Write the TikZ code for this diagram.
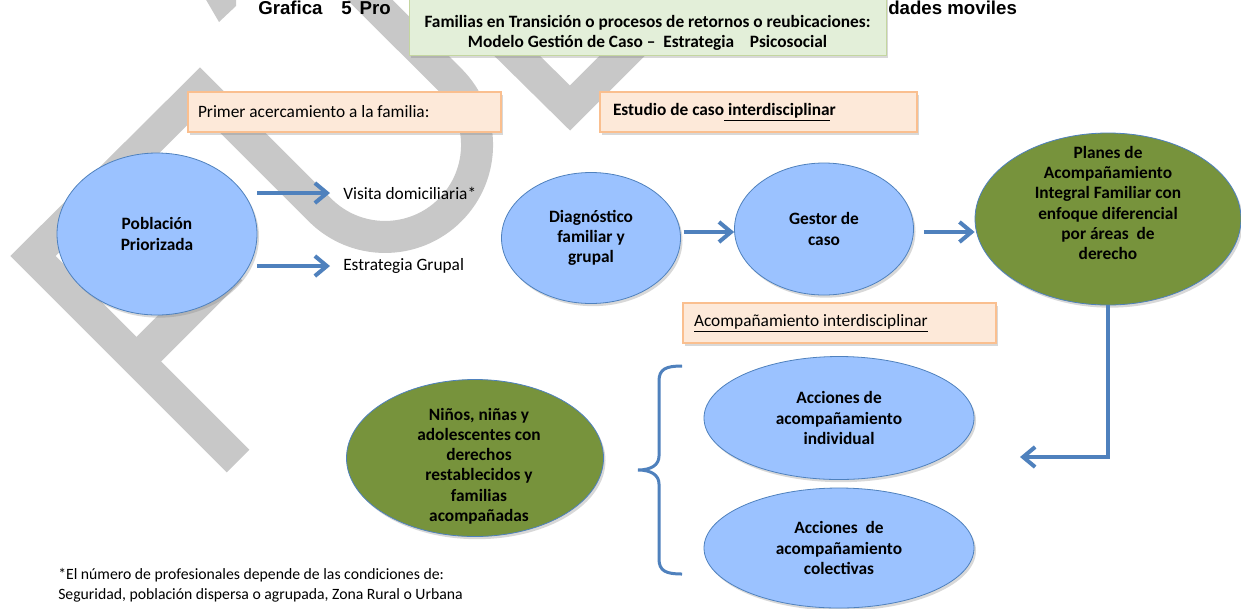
\documentclass[tikz,border=0pt]{standalone}
\usepackage{fontspec}
\setmainfont{Carlito}
\newfontfamily\titlefont{Liberation Sans}
\usetikzlibrary{shapes.geometric,arrows.meta,shadows}

\definecolor{accblue}{RGB}{79,129,189}
\definecolor{lightblue}{RGB}{155,194,255}
\definecolor{olivefill}{RGB}{119,147,60}
\definecolor{peach}{RGB}{253,233,217}
\definecolor{peachline}{RGB}{250,191,143}
\definecolor{palegreen}{RGB}{227,239,217}
\definecolor{palegreenline}{RGB}{196,214,160}
\definecolor{wmgray}{RGB}{200,200,200}

\newlength{\pxu}
\setlength{\pxu}{0.75pt}

\tikzset{
  txt/.style={font=\fontsize{13}{15.2}\selectfont, inner sep=0pt},
  btxt/.style={txt, font=\fontsize{13}{15.2}\selectfont\bfseries, align=center},
  titletxt/.style={txt, font=\titlefont\bfseries\fontsize{14}{16}\selectfont, anchor=base west},
  softshadow/.style={drop shadow={shadow xshift=1.5pt, shadow yshift=-2pt, opacity=.3}},
  notebox/.style={rectangle, draw=peachline, line width=1pt, fill=peach, softshadow,
    minimum height=40\pxu, inner xsep=10\pxu, align=flush left, font=\fontsize{13}{15.2}\selectfont},
  bluecase/.style={ellipse, draw=accblue, line width=.6pt, fill=lightblue, softshadow,
    inner sep=0pt, align=center, font=\fontsize{13}{15.2}\selectfont\bfseries},
  greencase/.style={bluecase, fill=olivefill},
  flowarrow/.style={draw=accblue, line width=3pt, -{Straight Barb[length=9pt,width=15pt]}},
  wmband/.style={draw=wmgray, line width=24pt, line join=miter}
}

\begin{document}
\begin{tikzpicture}[x=0.75pt, y=-0.75pt]
  \useasboundingbox (0,0) rectangle (1241,608);
  \clip (0,0) rectangle (1241,608);
  \fill[white] (0,0) rectangle (1241,608);
  % marca de agua
  \draw[wmband] (238,461) -- (33,256) -- (200,90) -- (320,210)
    arc[start angle=135, end angle=-45, radius=92] -- (350,-20);
  \draw[wmband, line width=26pt] (138,360) -- (230,268);
  \draw[wmband] (430,-30) -- (570,108) -- (670,8);
  \fill[wmgray] (205,-2) -- (236,-2) -- (236,6) -- (219,22) -- cycle;

  \node[titletxt] (tit-a) at (258,14) {Grafica\hspace{14pt}5\hspace{6pt}Pro};
  \node[titletxt] (tit-b) at (888,14) {dades moviles};
  \node[rectangle, draw=palegreenline, fill=palegreen, softshadow,
    minimum width=477\pxu, minimum height=66\pxu] (transbox) at (647.5,22) {};
  \node[btxt] (trans) at (647.5,33) {Familias en Transición o procesos de retornos o reubicaciones:\\
    Modelo Gestión de Caso --\ \ Estrategia\ \ \ \ Psicosocial};

  \node[notebox, text width=219.75pt] (primer) at (344.5,112) {Primer acercamiento a la familia:};
  \node[notebox, text width=218.25pt, inner xsep=9.75pt,
    font=\fontsize{13}{15.2}\selectfont\bfseries] (estudio) at (758.5,112)
    {Estudio de caso\underline{\ interdisciplina}r};

  \node[bluecase, minimum width=200\pxu, minimum height=162\pxu] (pob) at (157,234) {Población\\Priorizada};
  \node[txt, anchor=west, inner xsep=13\pxu] (visita) at (330,193) {Visita domiciliaria*};
  \node[txt, anchor=west, inner xsep=13\pxu] (grupal) at (330,266) {Estrategia Grupal};
  \draw[flowarrow] (pob.east |- visita.west) -- (visita.west);
  \draw[flowarrow] (pob.east |- grupal.west) -- (grupal.west);

  \node[bluecase, minimum width=179\pxu, minimum height=131\pxu] (diag) at (591,238) {Diagnóstico\\familiar y\\grupal};
  \node[bluecase, minimum width=179\pxu, minimum height=132\pxu] (gestor) at (824,229) {Gestor de\\caso};
  \node[greencase, minimum width=266\pxu, minimum height=172\pxu] (planes) at (1108,219) {};
  \node[btxt] (planes-txt) at (1108,203) {Planes de\\Acompañamiento\\Integral Familiar con\\enfoque diferencial\\por áreas\ \ de\\derecho};
  \coordinate (mid-row) at (0,232);
  \draw[flowarrow, shorten <=2pt] (diag.east |- mid-row) -- (gestor.west |- mid-row);
  \draw[flowarrow, shorten <=7.5pt] (gestor.east |- mid-row) -- (planes.west |- mid-row);

  \node[notebox, text width=218.25pt, inner xsep=8.25pt] (acomp) at (839.5,323) {\underline{Acompañamiento interdisciplinar}};

  \node[bluecase, minimum width=270\pxu, minimum height=123\pxu] (indiv) at (839,418) {Acciones de\\acompañamiento\\individual};
  \node[bluecase, minimum width=270\pxu, minimum height=120\pxu] (colect) at (839,548) {Acciones\ \ de\\acompañamiento\\colectivas};
  \coordinate (back) at (1020,457);
  \draw[flowarrow] (planes.south) |- (back);

  \draw[accblue, line width=2.25pt] (682,366) .. controls (666,366) and (659,369) .. (659,381)
    -- (659,456) .. controls (659,465) and (651,470) .. (638,470)
    .. controls (651,470) and (659,475) .. (659,484)
    -- (659,559) .. controls (659,571) and (666,574) .. (682,574);

  \node[greencase, minimum width=257\pxu, minimum height=157\pxu] (ninos) at (475,458) {};
  \node[btxt] (ninos-txt) at (479,466) {Niños, niñas y\\adolescentes con\\derechos\\restablecidos y\\familias\\acompañadas};

  \node[txt, font=\fontsize{11.8}{15}\selectfont, anchor=north west, align=left] (nota) at (58,568)
    {*El número de profesionales depende de las condiciones de:\\Seguridad, población dispersa o agrupada, Zona Rural o Urbana};
\end{tikzpicture}
\end{document}
